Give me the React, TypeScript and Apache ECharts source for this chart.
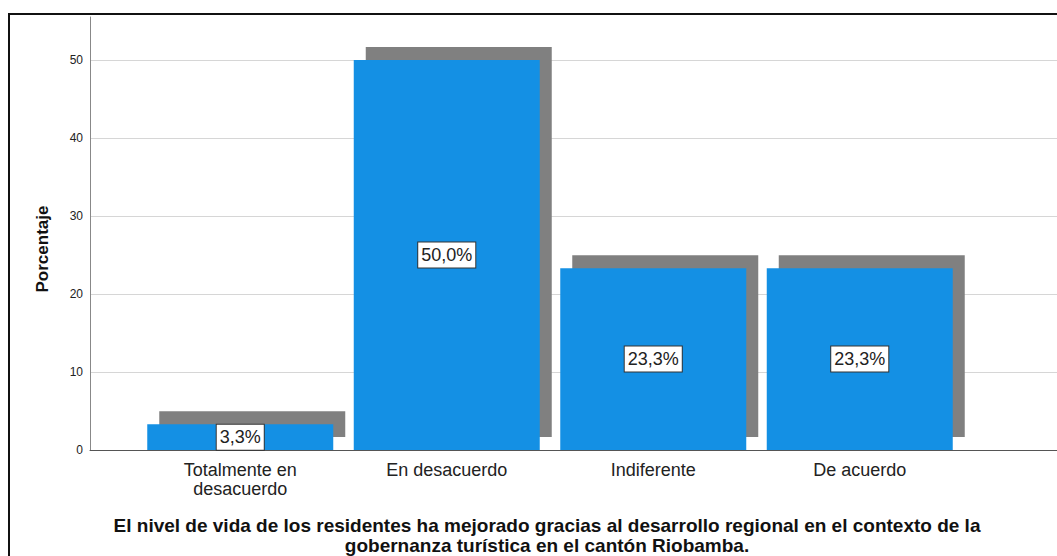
import React, { useEffect, useRef } from "react";
import * as echarts from "echarts";

const categories = ["Totalmente en\ndesacuerdo", "En desacuerdo", "Indiferente", "De acuerdo"];
const percentages = [3.3, 50.0, 23.3, 23.3];
const yTicks = [0, 10, 20, 30, 40, 50];
const yAxisName = "Porcentaje";
const titleLines = [
  "El nivel de vida de los residentes ha mejorado gracias al desarrollo regional en el contexto de la",
  "gobernanza turística en el cantón Riobamba.",
];

const Y_MAX = 55.5;
const FONT = "'Liberation Sans', Arial, sans-serif";

export default function App() {
  const ref = useRef<HTMLDivElement>(null);
  useEffect(() => {
    if (!ref.current) return;
    const chart = echarts.init(ref.current, null, { renderer: "svg" });
    const splitColors = yTicks.map(() => "#d6d6d6").concat(["rgba(0,0,0,0)"]);
    chart.setOption({
      animation: false,
      backgroundColor: "#ffffff",
      textStyle: { fontFamily: FONT },
      grid: [
        { left: 90, right: 0, top: 17, bottom: 106 },
        { left: 137, right: 94, top: 17, bottom: 106 },
        { left: 149, right: 82, top: 4, bottom: 119 },
      ],
      xAxis: [
        {
          gridIndex: 0,
          type: "value",
          min: 0,
          max: 1,
          axisLine: { show: true, lineStyle: { color: "#555", width: 1 } },
          axisTick: { show: false },
          axisLabel: { show: false },
          splitLine: { show: false },
        },
        {
          gridIndex: 1,
          type: "category",
          data: categories,
          axisLine: { show: false },
          axisTick: { show: false },
          axisLabel: {
            color: "#222",
            fontSize: 18,
            lineHeight: 19,
            margin: 10,
            fontFamily: FONT,
            interval: 0,
          },
        },
        {
          gridIndex: 2,
          type: "category",
          data: categories,
          show: false,
        },
      ],
      yAxis: [
        {
          gridIndex: 0,
          type: "value",
          min: 0,
          max: Y_MAX,
          interval: 10,
          axisLine: { show: true, lineStyle: { color: "#888", width: 1 } },
          axisTick: { show: false },
          axisLabel: { color: "#222", fontSize: 12, margin: 7, showMaxLabel: false, fontFamily: FONT },
          splitLine: { show: true, lineStyle: { color: splitColors, width: 1 } },
        },
        { gridIndex: 1, type: "value", min: 0, max: Y_MAX, show: false, splitLine: { show: false } },
        { gridIndex: 2, type: "value", min: 0, max: Y_MAX, show: false, splitLine: { show: false } },
      ],
      series: [
        {
          type: "bar",
          xAxisIndex: 2,
          yAxisIndex: 2,
          data: percentages,
          barWidth: 186,
          itemStyle: { color: "#808080" },
          silent: true,
          z: 1,
        },
        {
          type: "bar",
          xAxisIndex: 1,
          yAxisIndex: 1,
          data: percentages,
          barWidth: 186,
          itemStyle: { color: "#1490e4" },
          z: 2,
          label: {
            show: true,
            position: "inside",
            formatter: (p: any) => p.value.toFixed(1).replace(".", ",") + "%",
            color: "#222",
            fontSize: 18,
            fontFamily: FONT,
            backgroundColor: "#ffffff",
            borderColor: "#333",
            borderWidth: 1,
            padding: [4, 3, 3, 3],
          },
        },
      ],
      graphic: [
        {
          type: "rect",
          shape: { x: 9, y: 14, width: 1200, height: 700 },
          style: { fill: "none", stroke: "#111", lineWidth: 2 },
          silent: true,
          z: 100,
        },
        {
          type: "text",
          x: 42,
          y: 249,
          rotation: Math.PI / 2,
          style: {
            text: yAxisName,
            font: `bold 17px ${FONT}`,
            fill: "#111",
            align: "center",
            verticalAlign: "middle",
          },
          z: 100,
        },
        {
          type: "text",
          x: 547,
          y: 516,
          style: {
            text: titleLines.join("\n"),
            font: `bold 19px ${FONT}`,
            fill: "#111",
            align: "center",
            verticalAlign: "top",
            lineHeight: 19.5,
          },
          z: 100,
        },
      ],
    });
    return () => chart.dispose();
  }, []);
  return <div ref={ref} style={{ position: "fixed", left: 0, top: 0, width: 1057, height: 556 }} />;
}
